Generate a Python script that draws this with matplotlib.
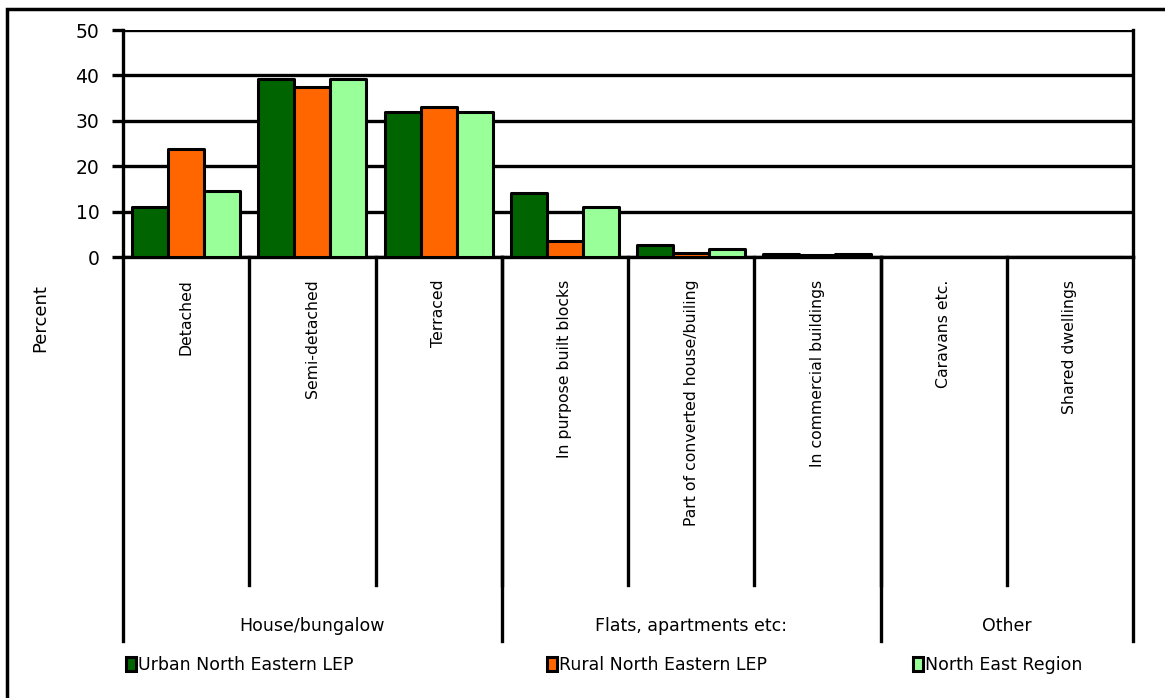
import numpy as np
import matplotlib.pyplot as plt
from matplotlib.patches import Rectangle

categories = ['Detached', 'Semi-detached', 'Terraced', 'In purpose built blocks',
              'Part of converted house/builing', 'In commercial buildings',
              'Caravans etc.', 'Shared dwellings']
groups = ['House/bungalow', 'Flats, apartments etc:', 'Other']
group_sizes = [3, 3, 2]

series_names = ['Urban North Eastern LEP', 'Rural North Eastern LEP', 'North East Region']
urban = [11.1, 39.1, 32.0, 14.2, 2.7, 0.6, 0.1, 0.1]
rural = [23.8, 37.4, 33.1, 3.5, 0.9, 0.5, 0.1, 0.1]
region = [14.6, 39.1, 31.9, 11.1, 1.8, 0.6, 0.1, 0.1]
colors = ['#006400', '#FF6600', '#99FF99']

W, H = 1165, 698
fig = plt.figure(figsize=(W / 100, H / 100), dpi=100)
fig.patches.append(Rectangle((7 / W, -0.1), 1.2, 1.1 - 9 / H, transform=fig.transFigure,
                             fill=False, edgecolor='black', linewidth=2.5))

left, right, top, bottom = 123, 1133, 30, 257
ax = fig.add_axes([left / W, 1 - bottom / H, (right - left) / W, (bottom - top) / H])

x = np.arange(len(categories))
bw = 0.285
bars = []
for i, (vals, c, name) in enumerate(zip([urban, rural, region], colors, series_names)):
    b = ax.bar(x + (i - 1) * bw, vals, bw, color=c, edgecolor='black', linewidth=2.2,
               joinstyle='round', label=name, zorder=3)
    bars.append(b)

ax.set_xlim(-0.5, len(categories) - 0.5)
ax.set_ylim(0, 50)
ax.set_yticks(range(0, 51, 10))
ax.yaxis.grid(True, color='black', linewidth=2.4, zorder=1)
ax.tick_params(axis='y', labelsize=13.5, length=8, width=2.4, pad=9, direction='out')
ax.set_xticks([])
for s in ['left', 'right', 'bottom']:
    ax.spines[s].set_linewidth(2.4)
ax.spines['top'].set_visible(False)

# multi-level category axis
trans = ax.get_xaxis_transform()
for k in range(1, len(categories)):
    ax.plot([k - 0.5, k - 0.5], [0, -1.445], color='black', lw=2.4, transform=trans, clip_on=False)
for i, cat in enumerate(categories):
    ax.text(i, -0.1, cat, rotation=90, ha='center', va='top', fontsize=11.3, transform=trans)
edges = np.concatenate([[0], np.cumsum(group_sizes)]) - 0.5
for e in edges:
    ax.plot([e, e], [0, -1.69], color='black', lw=2.4, transform=trans, clip_on=False)
for g, a, b in zip(groups, edges[:-1], edges[1:]):
    ax.text((a + b) / 2, -1.625, g, ha='center', va='center', fontsize=12.5, transform=trans)

fig.text(40 / W, 1 - 318 / H, 'Percent', rotation=90, ha='center', va='center', fontsize=13)

for b, name, xpos in zip(bars, series_names, [126, 547, 913]):
    fig.legend([b], [name], loc='center left', bbox_to_anchor=(xpos / W, 1 - 665 / H),
               frameon=False, fontsize=12.5, handlelength=0.55, handleheight=0.9,
               handletextpad=0.15, borderaxespad=0, borderpad=0)

fig.savefig('out.png', dpi=100)
